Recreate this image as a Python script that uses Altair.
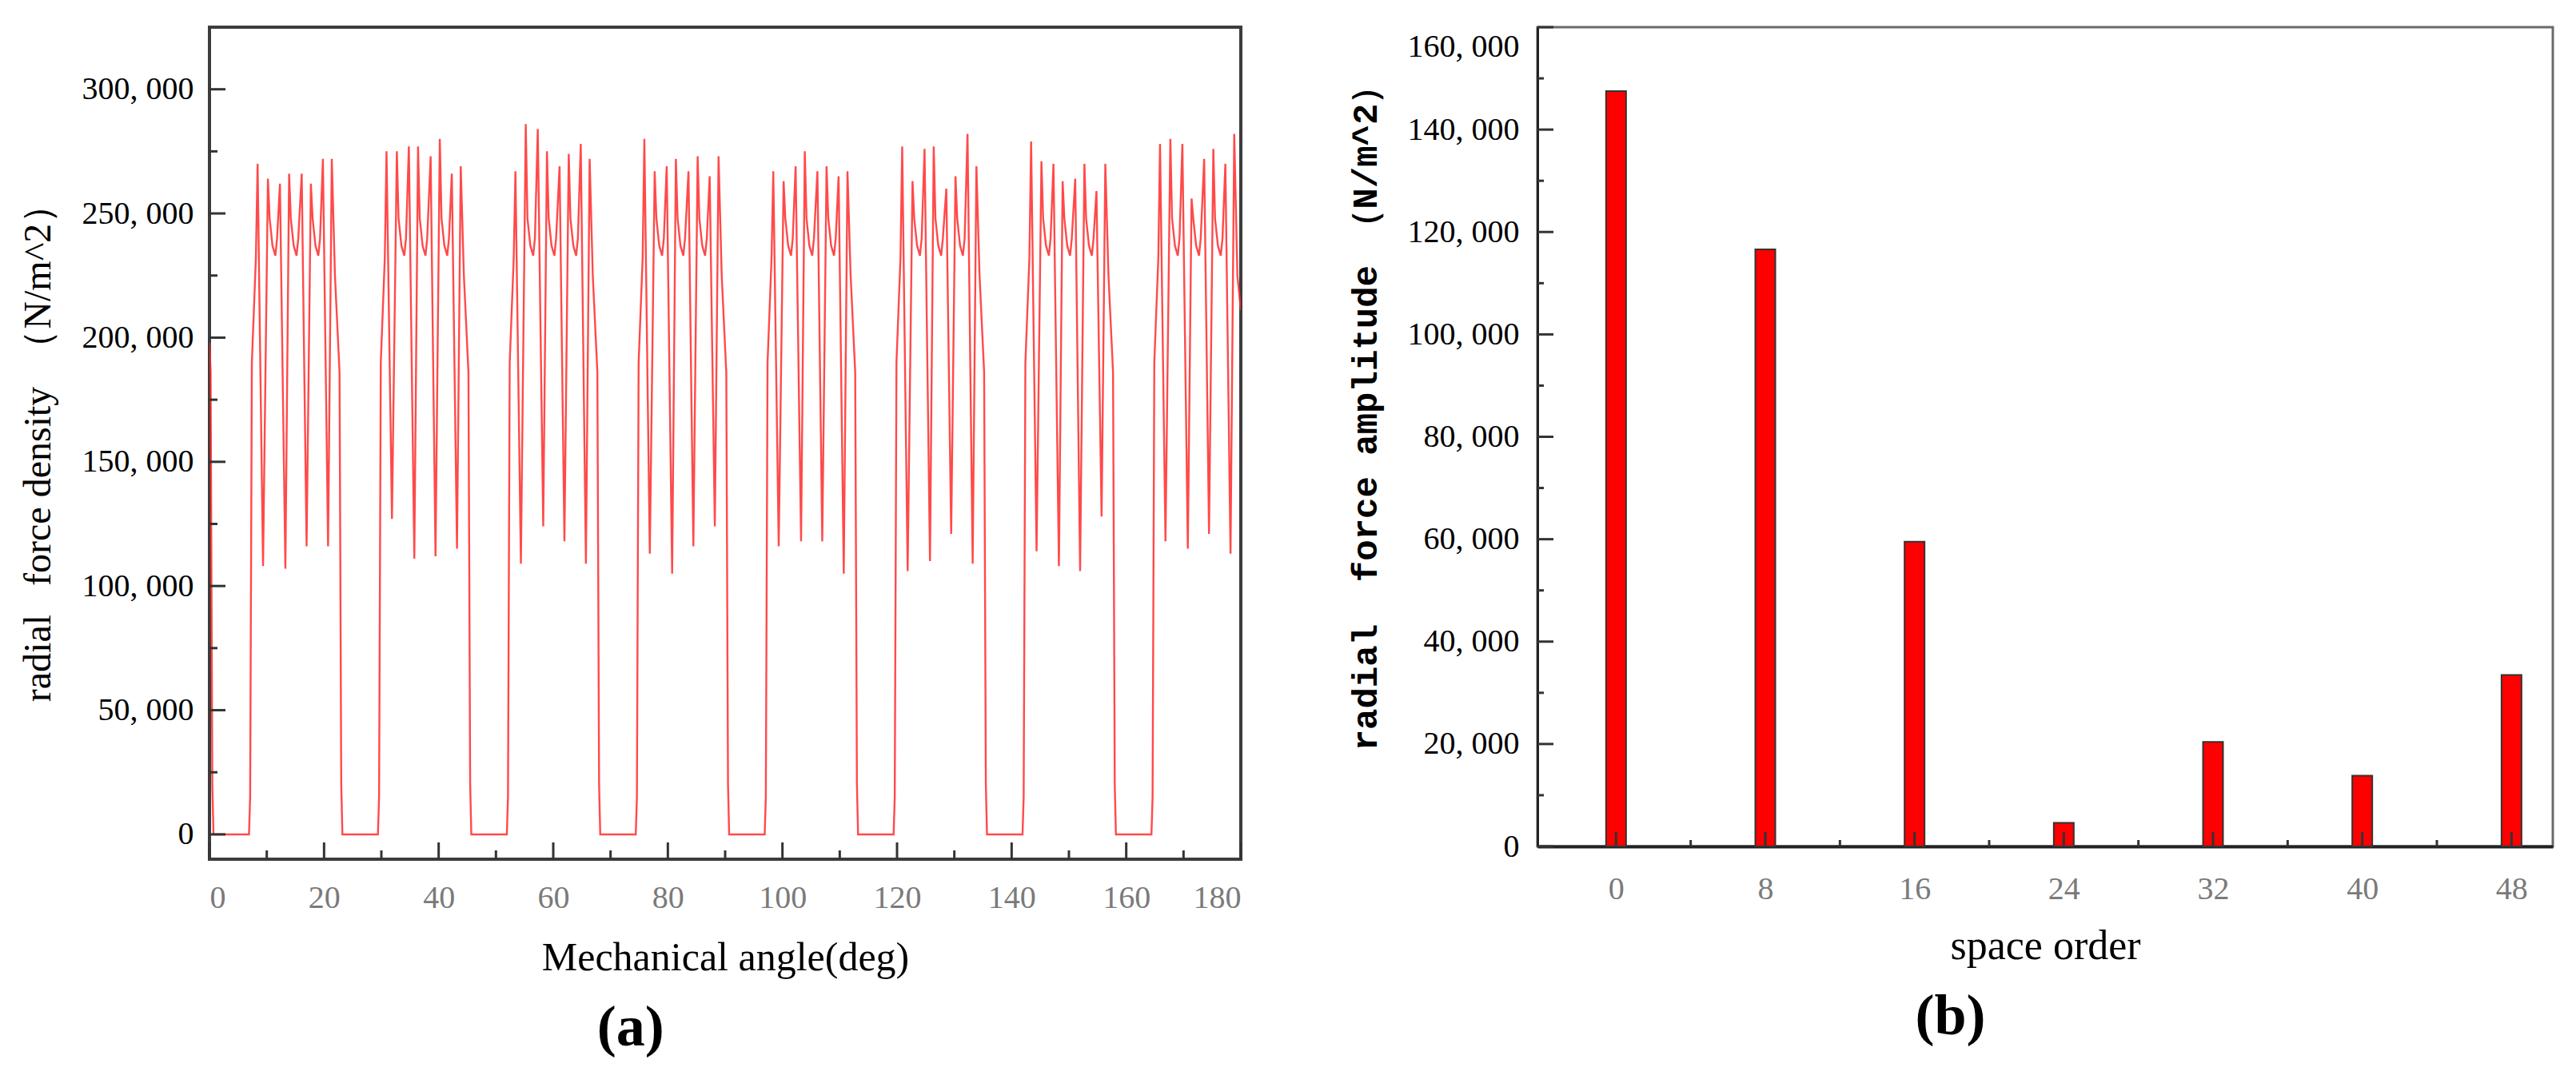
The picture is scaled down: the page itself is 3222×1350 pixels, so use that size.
"""
Radial force density waveform (a) and its space-order spectrum (b).
"""

import altair as alt
import pandas as pd

# ---------------------------------------------------------------------------
# (a) radial force density vs mechanical angle
# ---------------------------------------------------------------------------
# start angle of each of the 8 pulses (deg)
pulse_base = [0.0, 22.5, 45.0, 67.5, 90.0, 112.5, 135.0, 157.5]

# spike heights read off each pulse (N/m^2): the peak before each dip,
# the dip itself and the peak after it, four groups per pulse
peak_a = [
    [270000, 262000, 266000, 272000],
    [275000, 277000, 273000, 266000],
    [267000, 284000, 269000, 278000],
    [280000, 269000, 267000, 265000],
    [267000, 269000, 267000, 265000],
    [277000, 276000, 260000, 282000],
    [279000, 270000, 264000, 259000],
    [278000, 278000, 272000, 270000],
]
dips = [
    [108000, 107000, 116000, 116000],
    [127000, 111000, 112000, 115000],
    [109000, 124000, 118000, 109000],
    [113000, 105000, 116000, 124000],
    [116000, 118000, 118000, 105000],
    [106000, 110000, 121000, 109000],
    [114000, 108000, 106000, 128000],
    [118000, 115000, 121000, 113000],
]
peak_b = [
    [264000, 266000, 262000, 272000],
    [275000, 277000, 280000, 269000],
    [286000, 275000, 274000, 272000],
    [267000, 272000, 273000, 273000],
    [263000, 275000, 269000, 267000],
    [263000, 277000, 265000, 269000],
    [271000, 263000, 270000, 270000],
    [280000, 256000, 276000, 282000],
]

# outline of one pulse: (angle offset from pulse start, level or spike slot)
pulse_shape = [
    (6.9, 0), (7.1, 15000), (7.4, 190000), (8.1, 232000),
    (8.4, ("a", 0)), (9.35, ("d", 0)), (10.2, ("b", 0)),
    (10.5, 248000), (11.0, 237000), (11.5, 233000), (11.8, 240000),
    (12.3, ("a", 1)), (13.25, ("d", 1)), (13.9, ("b", 1)),
    (14.2, 248000), (14.7, 237000), (15.2, 233000), (15.5, 240000),
    (16.1, ("a", 2)), (16.95, ("d", 2)), (17.7, ("b", 2)),
    (18.0, 248000), (18.5, 237000), (19.0, 233000), (19.3, 240000),
    (19.8, ("a", 3)), (20.7, ("d", 3)), (21.35, ("b", 3)),
    (21.9, 225000), (22.7, 186000), (23.0, 20000), (23.2, 0),
]

# tail of the previous pulse at 0 deg and the value where the trace ends
lead_in = [(0.0, 198000), (0.2, 186000), (0.5, 20000), (0.7, 0)]
lead_out = [(180.0, 211000)]

x_major_a = [0, 20, 40, 60, 80, 100, 120, 140, 160, 180]
x_minor_a = [10, 30, 50, 70, 90, 110, 130, 150, 170]
y_major_a = [0, 50000, 100000, 150000, 200000, 250000, 300000]
y_minor_a = [25000, 75000, 125000, 175000, 225000, 275000]

# ---------------------------------------------------------------------------
# (b) radial force amplitude vs space order
# ---------------------------------------------------------------------------
orders = [0, 8, 16, 24, 32, 40, 48]
amplitude = [147500, 116600, 59500, 4600, 20400, 13800, 33500]

x_major_b = [0, 8, 16, 24, 32, 40, 48]
x_minor_b = [4, 12, 20, 28, 36, 44]
y_major_b = [0, 20000, 40000, 60000, 80000, 100000, 120000, 140000, 160000]
y_minor_b = [10000, 30000, 50000, 70000, 90000, 110000, 130000, 150000]

SERIF = "Liberation Serif"
MONO = "Liberation Mono"
W_A, H_A = 1290, 1041
W_B, H_B = 1270, 1025
COMMA_SPACE = "replace(format(datum.value, ','), ',', ', ')"
NB = "\u00a0"


def build_wave_table() -> pd.DataFrame:
    """Lay the read spike heights into the pulse outline, pulse by pulse."""
    slots = {"a": peak_a, "d": dips, "b": peak_b}
    rows = list(lead_in)
    for k, base in enumerate(pulse_base):
        for offset, level in pulse_shape:
            angle = base + offset
            if angle >= 180:
                continue
            if isinstance(level, tuple):
                level = slots[level[0]][k][level[1]]
            rows.append((angle, level))
    rows += lead_out
    return pd.DataFrame(rows, columns=["angle", "force"])


def inward_x_ticks(values, field, height, length):
    return (
        alt.Chart(pd.DataFrame({field: values}))
        .mark_rule(color="#333333", strokeWidth=3)
        .encode(x=f"{field}:Q", y=alt.value(height), y2=alt.value(height - length))
    )


def inward_y_ticks(values, field, length):
    return (
        alt.Chart(pd.DataFrame({field: values}))
        .mark_rule(color="#333333", strokeWidth=3)
        .encode(y=f"{field}:Q", x=alt.value(0), x2=alt.value(length))
    )


def build_wave_chart() -> alt.LayerChart:
    wave = build_wave_table()
    line = (
        alt.Chart(wave)
        .mark_line(color="#ff2a2a", strokeWidth=2.4, opacity=0.85, clip=True)
        .encode(
            x=alt.X("angle:Q", scale=alt.Scale(domain=[0, 180], nice=False, zero=False),
                    axis=alt.Axis(values=x_major_a, format="d", labelColor="#7a7a7a",
                                  labelPadding=28, title="Mechanical angle(deg)",
                                  titlePadding=30, titleFontSize=50)),
            y=alt.Y("force:Q", scale=alt.Scale(domain=[-10000, 325000], nice=False),
                    axis=alt.Axis(values=y_major_a, labelExpr=COMMA_SPACE,
                                  labelPadding=20, titlePadding=30, titleFontSize=48,
                                  title=f"radial{NB}{NB}{NB}force density{NB}{NB}（N/m^2）")),
        )
    )
    ticks = (
        inward_x_ticks(x_major_a, "angle", H_A, 21)
        + inward_x_ticks(x_minor_a, "angle", H_A, 11)
        + inward_y_ticks(y_major_a, "force", 20)
        + inward_y_ticks(y_minor_a, "force", 10)
    )
    return (line + ticks).properties(
        width=W_A, height=H_A,
        view=alt.ViewBackground(stroke="#3c3c3c", strokeWidth=4),
        title=alt.Title("(a)", orient="bottom", anchor="middle", frame="bounds",
                        font=SERIF, fontSize=72, fontWeight="bold", offset=28),
    )


def build_spectrum_chart() -> alt.LayerChart:
    spectrum = pd.DataFrame({"order": orders, "amplitude": amplitude})
    # the top label sits just inside the frame, as in the figure
    top_label_shift = {"condition": {"test": "datum.value === 160000", "value": 24},
                       "value": 0}
    bars = (
        alt.Chart(spectrum)
        .mark_bar(size=25, color="#ff0000", stroke="#333333", strokeWidth=2)
        .encode(
            x=alt.X("order:Q", scale=alt.Scale(domain=[-4, 50], nice=False, zero=False),
                    axis=alt.Axis(values=x_major_b, format="d", labelColor="#7a7a7a",
                                  labelPadding=33, title="space order",
                                  titlePadding=26, titleFontSize=52,
                                  domain=True, domainColor="#222222", domainWidth=4)),
            y=alt.Y("amplitude:Q", scale=alt.Scale(domain=[0, 160000], nice=False),
                    axis=alt.Axis(values=y_major_b, labelExpr=COMMA_SPACE,
                                  labelOffset=top_label_shift,
                                  labelPadding=23, titlePadding=30, titleFont=MONO,
                                  titleFontWeight="bold", titleFontSize=44, titleY=478,
                                  title=f"radial{NB}{NB}force amplitude{NB}（N/m^2）",
                                  domain=True, domainColor="#222222", domainWidth=3)),
        )
    )
    ticks = (
        inward_x_ticks(x_major_b, "order", H_B, 18)
        + inward_x_ticks(x_minor_b, "order", H_B, 8)
        + inward_y_ticks(y_major_b, "amplitude", 20)
        + inward_y_ticks(y_minor_b, "amplitude", 8)
    )
    return (bars + ticks).properties(
        width=W_B, height=H_B,
        view=alt.ViewBackground(stroke="#6a6a6a", strokeWidth=3),
        title=alt.Title("(b)", orient="bottom", anchor="middle", frame="bounds",
                        font=SERIF, fontSize=72, fontWeight="bold", offset=28),
    )


chart = (
    alt.hconcat(build_wave_chart(), build_spectrum_chart(), spacing=128)
    .properties(padding={"left": 14, "top": 23, "right": 0, "bottom": 0},
                background="white")
    .configure_axis(
        grid=False, ticks=False, domain=False,
        labelFont=SERIF, labelFontSize=40, labelColor="black",
        titleFont=SERIF, titleFontWeight="normal", titleColor="black",
    )
)

chart.save("out.html", embed_options={"renderer": "svg", "actions": False})
